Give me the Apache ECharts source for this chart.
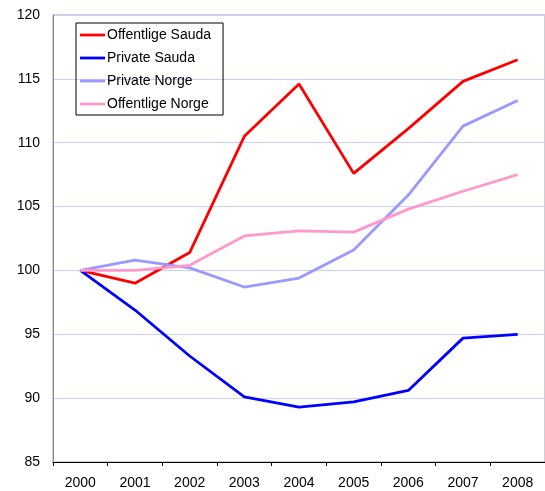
<!DOCTYPE html>
<html>
<head>
<meta charset="utf-8">
<script src="https://cdn.jsdelivr.net/npm/echarts@6/dist/echarts.min.js"></script>
<style>
  html, body { margin: 0; padding: 0; background: #fff; }
  #chart-root { width: 545px; height: 491px; }
</style>
</head>
<body>
<div id="chart-root"></div>
<script>
// data
const years = ["2000", "2001", "2002", "2003", "2004", "2005", "2006", "2007", "2008"];
const offentligeSauda = [100, 99.0, 101.4, 110.5, 114.6, 107.6, 111.1, 114.8, 116.5];
const privateSauda = [100, 96.9, 93.3, 90.1, 89.3, 89.7, 90.6, 94.7, 95.0];
const privateNorge = [100, 100.8, 100.2, 98.7, 99.4, 101.6, 105.9, 111.3, 113.3];
const offentligeNorge = [100, 100.0, 100.4, 102.7, 103.1, 103.0, 104.8, 106.2, 107.5];

const chart = echarts.init(document.getElementById("chart-root"));

function line(name, data, color) {
  return {
    name: name,
    type: "line",
    data: data,
    symbol: "none",
    smooth: false,
    lineStyle: { width: 2.8, color: color },
    itemStyle: { color: color }
  };
}

chart.setOption({
  animation: false,
  textStyle: { fontFamily: "Liberation Sans, Arial, sans-serif" },
  grid: {
    left: 53,
    top: 15,
    width: 498,
    height: 447,
    show: true,
    borderColor: "#a0a0a8",
    borderWidth: 1
  },
  legend: {
    orient: "vertical",
    left: 76,
    top: 23,
    itemGap: 9,
    itemWidth: 25,
    itemHeight: 14,
    padding: [5, 12, 4, 4],
    borderColor: "#000",
    borderWidth: 1,
    borderRadius: 0,
    icon: "path://M0,5.7 L25,5.7 L25,8.5 L0,8.5 Z",
    textStyle: { fontSize: 14, color: "#000", padding: [0, 0, 0, -3] },
    data: ["Offentlige Sauda", "Private Sauda", "Private Norge", "Offentlige Norge"]
  },
  xAxis: {
    type: "category",
    data: years,
    boundaryGap: true,
    axisLine: { lineStyle: { color: "#000", width: 1 } },
    axisTick: { show: true, length: 4, lineStyle: { color: "#000" } },
    axisLabel: { color: "#000", fontSize: 14, margin: 14 },
    splitLine: { show: false }
  },
  yAxis: {
    type: "value",
    min: 85,
    max: 120,
    interval: 5,
    axisLine: { show: true, lineStyle: { color: "#888" } },
    axisTick: { show: false },
    axisLabel: { color: "#000", fontSize: 14, margin: 13 },
    splitLine: { show: true, lineStyle: { color: "#ccccff", width: 1 } }
  },
  series: [
    line("Offentlige Sauda", offentligeSauda, "#ff0000"),
    line("Private Sauda", privateSauda, "#0000ff"),
    line("Private Norge", privateNorge, "#9999ff"),
    line("Offentlige Norge", offentligeNorge, "#ff99cc")
  ]
});
</script>
</body>
</html>
